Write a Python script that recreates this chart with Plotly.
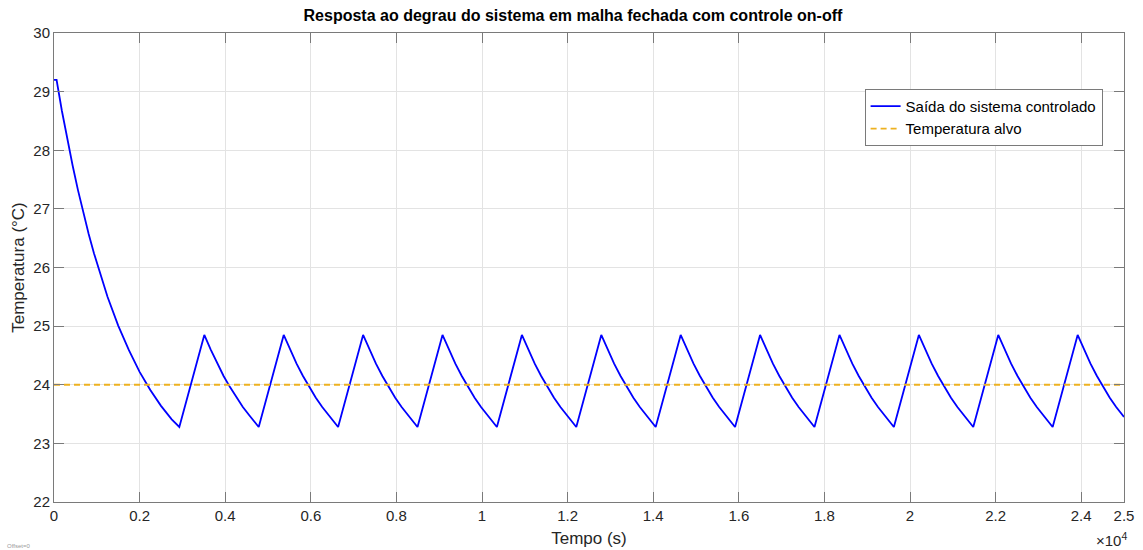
import plotly.graph_objects as go

# Transitório inicial: temperatura caindo até o primeiro desligamento (tempo em s, temperatura em °C)
t_transiente = [0, 60, 185, 310, 435, 560, 685, 810, 935, 1060, 1250, 1500, 1750, 2000, 2250, 2500, 2750, 2928]
y_transiente = [29.20, 29.20, 28.67, 28.19, 27.74, 27.32, 26.93, 26.57, 26.24, 25.93, 25.50, 25.01, 24.59, 24.22, 23.91, 23.64, 23.41, 23.28]

# Ciclos do controle on-off: pico (aquecedor desliga), descida até o mínimo (aquecedor liga)
t_ciclos = [
    3512, 3662, 3812, 3962, 4112, 4262, 4412, 4562, 4672, 4783,
    5367, 5517, 5667, 5817, 5967, 6117, 6267, 6417, 6527, 6638,
    7222, 7372, 7522, 7672, 7822, 7972, 8122, 8272, 8382, 8493,
    9077, 9227, 9377, 9527, 9677, 9827, 9977, 10127, 10237, 10348,
    10932, 11082, 11232, 11382, 11532, 11682, 11832, 11982, 12092, 12203,
    12787, 12937, 13087, 13237, 13387, 13537, 13687, 13837, 13947, 14058,
    14642, 14792, 14942, 15092, 15242, 15392, 15542, 15692, 15802, 15913,
    16497, 16647, 16797, 16947, 17097, 17247, 17397, 17547, 17657, 17768,
    18352, 18502, 18652, 18802, 18952, 19102, 19252, 19402, 19512, 19623,
    20207, 20357, 20507, 20657, 20807, 20957, 21107, 21257, 21367, 21478,
    22062, 22212, 22362, 22512, 22662, 22812, 22962, 23112, 23222, 23333,
    23917, 24067, 24217, 24367, 24517, 24667, 24817, 24967, 25000,
]
y_ciclos = [
    24.85, 24.60, 24.36, 24.15, 23.96, 23.78, 23.62, 23.48, 23.38, 23.28,
    24.85, 24.60, 24.36, 24.15, 23.96, 23.78, 23.62, 23.48, 23.38, 23.28,
    24.85, 24.60, 24.36, 24.15, 23.96, 23.78, 23.62, 23.48, 23.38, 23.28,
    24.85, 24.60, 24.36, 24.15, 23.96, 23.78, 23.62, 23.48, 23.38, 23.28,
    24.85, 24.60, 24.36, 24.15, 23.96, 23.78, 23.62, 23.48, 23.38, 23.28,
    24.85, 24.60, 24.36, 24.15, 23.96, 23.78, 23.62, 23.48, 23.38, 23.28,
    24.85, 24.60, 24.36, 24.15, 23.96, 23.78, 23.62, 23.48, 23.38, 23.28,
    24.85, 24.60, 24.36, 24.15, 23.96, 23.78, 23.62, 23.48, 23.38, 23.28,
    24.85, 24.60, 24.36, 24.15, 23.96, 23.78, 23.62, 23.48, 23.38, 23.28,
    24.85, 24.60, 24.36, 24.15, 23.96, 23.78, 23.62, 23.48, 23.38, 23.28,
    24.85, 24.60, 24.36, 24.15, 23.96, 23.78, 23.62, 23.48, 23.38, 23.28,
    24.85, 24.60, 24.36, 24.15, 23.96, 23.78, 23.62, 23.48, 23.45,
]

temperatura_alvo = 24.0
t_final = 25000

x_ticks = [0, 2000, 4000, 6000, 8000, 10000, 12000, 14000, 16000, 18000, 20000, 22000, 24000, 25000]
x_tick_labels = ["0", "0.2", "0.4", "0.6", "0.8", "1", "1.2", "1.4", "1.6", "1.8", "2", "2.2", "2.4", "2.5"]
y_ticks = [22, 23, 24, 25, 26, 27, 28, 29, 30]

FONT = "Liberation Sans, Arial, Helvetica, sans-serif"
AX_COLOR = "#262626"

fig = go.Figure()
fig.add_trace(go.Scatter(
    x=t_transiente + t_ciclos,
    y=y_transiente + y_ciclos,
    mode="lines",
    name="Saída do sistema controlado",
    line=dict(color="#0000ff", width=1.8),
))
fig.add_trace(go.Scatter(
    x=[0, t_final],
    y=[temperatura_alvo, temperatura_alvo],
    mode="lines",
    name="Temperatura alvo",
    line=dict(color="#EDB120", width=1.8, dash="6px,4px"),
))

axis_common = dict(
    showline=True, linecolor="#7a7a7a", linewidth=1, mirror="ticks",
    ticks="inside", ticklen=10, tickwidth=1, tickcolor="#7a7a7a",
    showgrid=True, gridcolor="#e3e3e3", gridwidth=1,
    zeroline=False, automargin=False,
    tickfont=dict(family=FONT, size=15, color=AX_COLOR),
)

fig.update_xaxes(
    range=[0, t_final], tickmode="array", tickvals=x_ticks, ticktext=x_tick_labels,
    title=dict(text="Tempo (s)", font=dict(family=FONT, size=17, color=AX_COLOR), standoff=9),
    **axis_common,
)
fig.update_yaxes(
    range=[22, 30], tickmode="array", tickvals=y_ticks,
    title=dict(text="Temperatura (°C)", font=dict(family=FONT, size=17, color=AX_COLOR), standoff=4),
    **axis_common,
)

fig.update_layout(
    width=1143, height=550,
    margin=dict(l=54, r=19, t=33, b=48),
    paper_bgcolor="white", plot_bgcolor="white",
    title=dict(
        text="<b>Resposta ao degrau do sistema em malha fechada com controle on-off</b>",
        font=dict(family=FONT, size=16, color="black"),
        x=0.485, xref="paper", xanchor="center",
        y=1 - 15 / 550, yref="container", yanchor="middle",
    ),
    legend=dict(
        x=0.980, y=0.881, xanchor="right", yanchor="top",
        bgcolor="white", bordercolor="#7a7a7a", borderwidth=1,
        font=dict(family=FONT, size=15, color="black"),
        itemwidth=30, tracegroupgap=0,
    ),
    showlegend=True,
    annotations=[
        dict(
            text="×10<sup>4</sup>", x=1, y=-0.081, xref="paper", yref="paper",
            xanchor="right", yanchor="middle", xshift=5, showarrow=False,
            font=dict(family=FONT, size=15, color=AX_COLOR),
        ),
        dict(
            text="Offset=0", x=-0.0458, y=-0.094, xref="paper", yref="paper",
            xanchor="left", yanchor="middle", showarrow=False,
            font=dict(family=FONT, size=6, color="#9a9a9a"),
        ),
    ],
)

fig.write_html("out.html")
